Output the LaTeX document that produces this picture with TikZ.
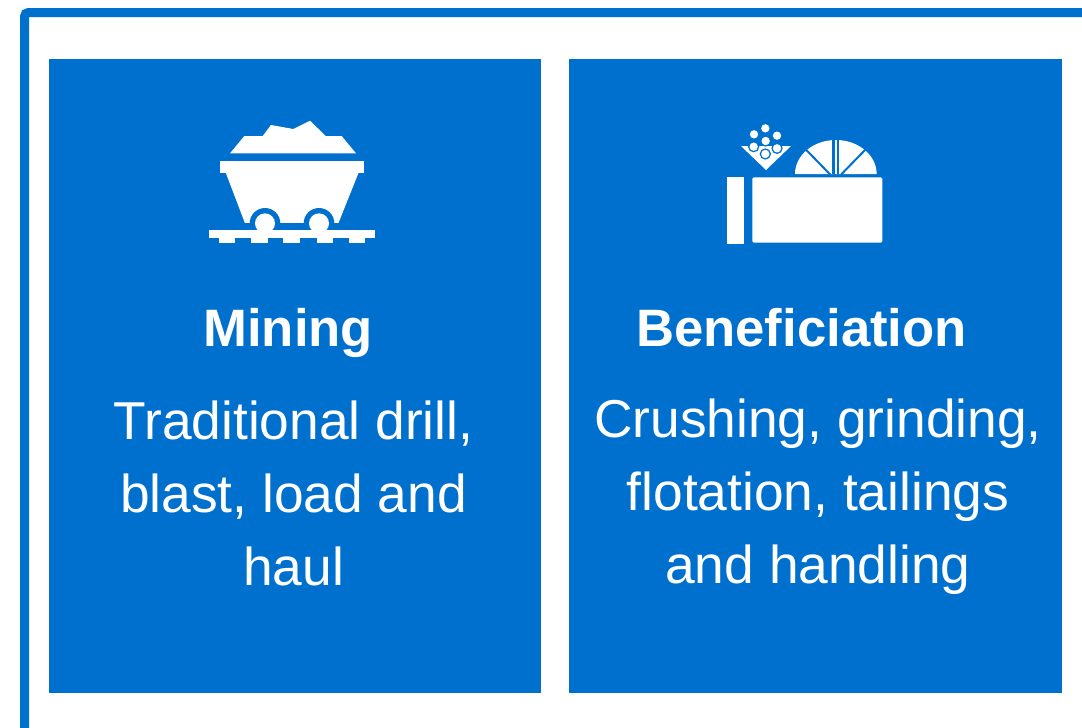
\documentclass[tikz,border=0pt]{standalone}
\usepackage{fontspec}
\setmainfont{Liberation Sans}
\definecolor{brandblue}{RGB}{0,112,206}
\tikzset{
  panel/.style={fill=brandblue,draw=none,inner sep=0pt,minimum height=475.5pt},
  heading/.style={text=white,font=\fontsize{39.5}{47}\selectfont\bfseries,anchor=base,inner sep=0pt},
  bodytext/.style={text=white,font=\fontsize{40}{54.75}\selectfont,align=center,anchor=center,inner sep=0pt},
  frameline/.style={draw=brandblue,line width=6.75pt,rounded corners=3pt},
  ink/.style={fill=white,draw=none},
  cut/.style={fill=brandblue,draw=none}
}
\begin{document}
\begin{tikzpicture}[x=.75pt,y=-.75pt]
\useasboundingbox (0,0) rectangle (1082,728);
\fill[white] (0,0) rectangle (1082,728);
\draw[frameline] (24.5,740) -- (24.5,12.5) -- (1095,12.5);
\node[panel,minimum width=369pt,anchor=north west] (mining) at (49,59) {};
\node[panel,minimum width=369.75pt,anchor=north west] (benef) at (569,59) {};
% cart icon
\begin{scope}[shift={(200,110)},x=.25pt,y=-.25pt]
\fill[ink] (90,130) -- (133,78) -- (188,78) -- (213,45) -- (280,57) -- (330,32) -- (377,78) -- (425,78) -- (468,130) -- cycle;
\fill[ink] (60,153) rectangle (492,190);
\fill[ink] (72,175) -- (78,190) -- (135,340) -- (415,340) -- (475,190) -- (481,175) -- cycle;
\fill[cut] (195,340) circle (46);
\fill[cut] (357,340) circle (46);
\fill[cut] (130,340) rectangle (420,362);
\fill[ink] (195,340) circle (30);
\fill[ink] (357,340) circle (30);
\fill[ink] (28,361) rectangle (524,383);
\foreach \a/\b in {58/105,153/203,250/300,350/398,448/495}{\fill[ink] (\a,380) rectangle (\b,400);}
\end{scope}
% beneficiation icon
\begin{scope}[shift={(715,115)},x=.25pt,y=-.25pt]
\fill[ink] (78,93) -- (228,93) -- (153,165) -- cycle;
\foreach \p in {(116,95),(186,100),(151,117),(152,78)}{\fill[cut] \p circle (17);}
\foreach \p in {(151,40),(117,58),(186,62),(152,78),(116,95),(186,100),(151,117)}{\fill[ink] \p circle (12.5);}
\fill[ink] (240,177) arc[start angle=180,end angle=360,x radius=122.5,y radius=102] -- cycle;
\fill[cut] (352,50) rectangle (373,178);
\fill[ink] (359,75) rectangle (365,178);
\draw[brandblue,line width=1.5pt] (346,179) -- (272,103);
\draw[brandblue,line width=1.5pt] (378,179) -- (452,103);
\fill[ink] (35,187) rectangle (87,388);
\fill[ink,rounded corners=1pt] (112,187) rectangle (502,383);
\end{scope}
\node[heading] (t1) at (288.3,346) {Mining};
\node[heading] (t2) at (801.5,346) {Beneficiation};
\node[bodytext] (b1) at (293.5,493.5) {Traditional drill,\\blast, load and\\haul};
\node[bodytext] (b2) at (818,496.5) {Crushing, grinding,\\flotation, tailings\\and handling};
\end{tikzpicture}
\end{document}
